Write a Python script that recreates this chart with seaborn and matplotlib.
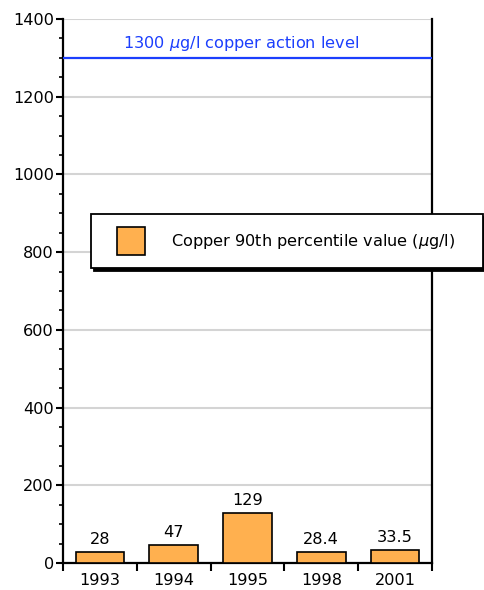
import matplotlib
matplotlib.use("Agg")
import matplotlib.pyplot as plt
import matplotlib.patches as mpatches
from matplotlib.legend_handler import HandlerPatch
from matplotlib.ticker import MultipleLocator, FixedLocator
import seaborn as sns
import pandas as pd

years = ["1993", "1994", "1995", "1998", "2001"]
values = [28, 47, 129, 28.4, 33.5]
value_labels = ["28", "47", "129", "28.4", "33.5"]
action_level = 1300
action_label = r"1300 $\mu$g/l copper action level"
legend_label = r"Copper 90th percentile value ($\mu$g/l)"
y_ticks = [0, 200, 400, 600, 800, 1000, 1200, 1400]

BAR_COLOR = "#ffb04f"
LINE_COLOR = "#1c3ffd"
GRID_COLOR = "#d4d4d4"
FS = 11.6

sns.set_style("ticks", rc={"text.color": "black", "axes.labelcolor": "black",
                           "xtick.color": "black", "ytick.color": "black",
                           "axes.edgecolor": "black"})
plt.rcParams["font.family"] = ["DejaVu Sans"]
plt.rcParams["mathtext.fontset"] = "dejavusans"
plt.rcParams["font.size"] = FS

df = pd.DataFrame({"year": years, "value": values})

fig = plt.figure(figsize=(4.85, 5.9), dpi=100)
ax = fig.add_axes([63 / 485, 1 - 563 / 590, (432 - 63) / 485, (563 - 19) / 590])

sns.barplot(data=df, x="year", y="value", color=BAR_COLOR, saturation=1,
            width=0.66, edgecolor="black", linewidth=1.2, ax=ax, zorder=3)

ax.set_ylim(0, 1400)
ax.set_xlim(-0.5, len(years) - 0.5)
ax.set_yticks(y_ticks)
ax.yaxis.set_minor_locator(MultipleLocator(50))
ax.grid(axis="y", color=GRID_COLOR, linewidth=1.5, zorder=0)
ax.set_axisbelow(True)

ax.xaxis.set_minor_locator(FixedLocator([i - 0.5 for i in range(len(years) + 1)]))
ax.tick_params(axis="x", which="major", length=0, pad=7, labelsize=FS, labelcolor="black")
ax.tick_params(axis="x", which="minor", length=6, width=1.5, direction="out", color="black")
ax.tick_params(axis="y", which="major", length=5, width=1.5, direction="out", pad=1.5,
               labelsize=FS, labelcolor="black", color="black")
ax.tick_params(axis="y", which="minor", length=3, width=1.2, direction="out", color="black")
ax.set_xlabel("")
ax.set_ylabel("")

for side in ["left", "right", "bottom"]:
    ax.spines[side].set_visible(True)
    ax.spines[side].set_color("black")
    ax.spines[side].set_linewidth(1.6)
ax.spines["top"].set_visible(False)

for i, (v, lab) in enumerate(zip(values, value_labels)):
    ax.annotate(lab, xy=(i, v), xytext=(0, 3.5), textcoords="offset points",
                ha="center", va="bottom", fontsize=FS, color="black")

ax.axhline(action_level, color=LINE_COLOR, linewidth=1.6, zorder=4)
ax.annotate(action_label, xy=(1.91, action_level), xytext=(0, 3.5),
            textcoords="offset points", ha="center", va="bottom",
            color=LINE_COLOR, fontsize=FS)


def square(legend, orig_handle, xdescent, ydescent, width, height, fontsize):
    return mpatches.Rectangle((-xdescent + width - height, -ydescent), height, height)


proxy = mpatches.Patch(facecolor=BAR_COLOR, edgecolor="black", linewidth=1.2)
px_per_pt = 100 / 72
fs_px = FS * px_per_pt
sq_pt = 28 / px_per_pt
hh = (sq_pt - 0.35 * FS * 0.7) / (FS * (1 - 0.35))
leg = ax.legend(handles=[proxy], labels=[legend_label],
                handler_map={mpatches.Patch: HandlerPatch(patch_func=square)},
                loc="upper left", mode="expand",
                bbox_to_anchor=(91 / 485, 1 - 214 / 590, (483 - 91) / 485, 0.0),
                bbox_transform=fig.transFigure, borderaxespad=0,
                handlelength=41 / fs_px, handleheight=hh, handletextpad=26 / fs_px,
                borderpad=13 / fs_px, fancybox=False,
                shadow={"color": "black", "alpha": 1.0},
                frameon=True, framealpha=1, edgecolor="black", fontsize=FS)
leg.get_frame().set_linewidth(1.3)
for t in leg.get_texts():
    t.set_color("black")
leg.set_zorder(10)

fig.savefig("out.png", dpi=100)
